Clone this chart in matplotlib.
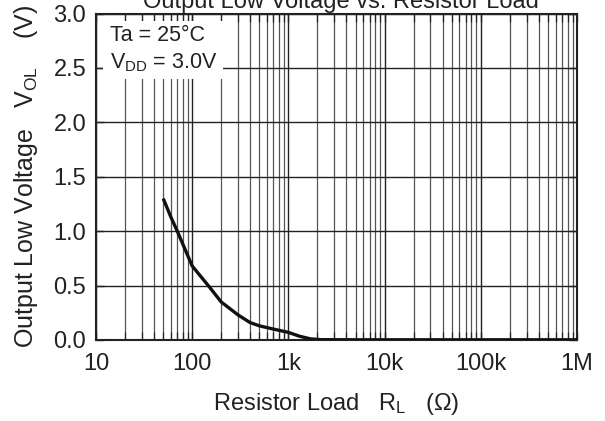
import numpy as np
import matplotlib
matplotlib.use("Agg")
import matplotlib.pyplot as plt
from matplotlib.patches import Rectangle

# --- data ---
r_load = [50, 60, 70, 80, 100, 150, 200, 300, 400, 500, 700, 1000,
          1300, 1700, 2200, 5000, 1e4, 1e5, 1e6]
v_ol = [1.30, 1.13, 1.00, 0.88, 0.68, 0.49, 0.35, 0.23, 0.16, 0.13, 0.10, 0.07,
        0.035, 0.01, 0.003, 0.002, 0.002, 0.002, 0.002]

x_ticks = [10, 100, 1e3, 1e4, 1e5, 1e6]
x_labels = ["10", "100", "1k", "10k", "100k", "1M"]
y_ticks = [0.0, 0.5, 1.0, 1.5, 2.0, 2.5, 3.0]

plt.rcParams['font.family'] = ['Liberation Sans', 'DejaVu Sans']
plt.rcParams['mathtext.fontset'] = 'custom'
plt.rcParams['mathtext.rm'] = 'Liberation Sans'
plt.rcParams['mathtext.it'] = 'Liberation Sans'

fig = plt.figure(figsize=(6.05, 4.21), dpi=100)
ax = fig.add_axes([96/605, 1-340/421, 481/605, 326.5/421])

ax.plot(r_load, v_ol, color="#111111", lw=2.4, zorder=4, solid_capstyle="butt")

ax.set_xscale("log")
ax.set_xlim(10, 1e6)
ax.set_ylim(0, 3.0)
ax.set_xticks(x_ticks)
ax.set_xticklabels(x_labels)
ax.set_yticks(y_ticks)
ax.set_yticklabels(["%.1f" % v for v in y_ticks])
ax.xaxis.set_minor_locator(matplotlib.ticker.LogLocator(base=10, subs=np.arange(2, 10)))
ax.xaxis.set_minor_formatter(matplotlib.ticker.NullFormatter())

ax.tick_params(which="both", direction="in", top=True, right=True,
               labelsize=17, colors="#222222")
ax.tick_params(which="major", length=6, width=1.0)
ax.tick_params(which="minor", length=6, width=0.9)
ax.tick_params(axis="x", pad=9)
ax.tick_params(axis="y", pad=7)

ax.set_axisbelow(True)
ax.grid(True, which="major", color="#222222", lw=1.0)
ax.grid(True, which="minor", axis="x", color="#555555", lw=0.9)

for s in ax.spines.values():
    s.set_linewidth(1.5)
    s.set_color("#222222")

# white box behind the condition text
ax.add_patch(Rectangle((0.015, 0.80), 0.25, 0.178, transform=ax.transAxes,
                       facecolor="white", edgecolor="none", zorder=2.5))
ax.text(0.029, 0.932, "Ta = 25°C", transform=ax.transAxes, fontsize=15.5,
        color="#222222", va="center", ha="left", zorder=5)
ax.text(0.029, 0.848, r"V$_{\mathregular{DD}}$ = 3.0V", transform=ax.transAxes,
        fontsize=15.5, color="#222222", va="center", ha="left", zorder=5)

ax.set_xlabel(r"Resistor Load   R$_{\mathregular{L}}$   ($\Omega$)", fontsize=17,
              color="#222222", labelpad=12)
ax.set_ylabel(r"Output Low Voltage   V$_{\mathregular{OL}}$    (V)", fontsize=18,
              color="#222222", labelpad=10)

fig.text(341/605, 1-8/421, "Output Low Voltage vs. Resistor Load", fontsize=17,
         color="#222222", ha="center", va="baseline")

fig.savefig("out.png", dpi=100)
